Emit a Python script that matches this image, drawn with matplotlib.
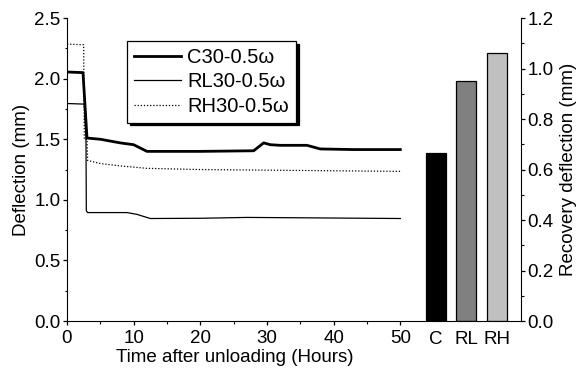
import matplotlib.pyplot as plt
import numpy as np

plt.rcParams['font.family'] = ['Liberation Sans', 'DejaVu Sans']
plt.rcParams['font.size'] = 13.5

# time histories (hours, mm)
t_c = [0, 2.4, 3.0, 5.0, 8.0, 10.0, 12.0, 20.0, 28.0, 29.5, 30.5, 32.0, 36.0, 38.0, 43.0, 50.0]
d_c = [2.055, 2.05, 1.51, 1.50, 1.47, 1.455, 1.40, 1.40, 1.405, 1.47, 1.455, 1.45, 1.45, 1.42, 1.415, 1.415]

t_rl = [0, 2.6, 2.85, 2.9, 3.1, 6.0, 9.0, 10.5, 12.5, 20.0, 27.0, 35.0, 45.0, 50.0]
d_rl = [1.795, 1.79, 1.50, 0.91, 0.895, 0.895, 0.895, 0.88, 0.846, 0.848, 0.855, 0.852, 0.848, 0.846]

t_rh = [0, 2.5, 2.6, 3.0, 3.1, 5.0, 8.0, 12.0, 20.0, 30.0, 40.0, 50.0]
d_rh = [2.285, 2.28, 1.50, 1.50, 1.325, 1.30, 1.28, 1.26, 1.25, 1.245, 1.24, 1.235]

# recovered deflection
groups = ['C', 'RL', 'RH']
recovery = [0.665, 0.950, 1.061]
bar_colors = ['#000000', '#808080', '#c0c0c0']

fig = plt.figure(figsize=(5.8, 3.69), dpi=100)
ax = fig.add_axes([0.1155, 0.130, 0.577, 0.821])
bx = fig.add_axes([0.6945, 0.130, 0.204, 0.821])

ax.plot(t_c, d_c, color='black', lw=2.0, label='C30-0.5ω')
ax.plot(t_rl, d_rl, color='black', lw=0.9, label='RL30-0.5ω')
ax.plot(t_rh, d_rh, color='black', lw=0.9, ls=(0, (1, 1.5)), label='RH30-0.5ω')

ax.set_xlim(0, 50.2)
ax.set_ylim(0, 2.5)
ax.set_xticks([0, 10, 20, 30, 40, 50])
ax.set_xticks(np.arange(5, 50, 10), minor=True)
ax.set_yticks([0, 0.5, 1.0, 1.5, 2.0, 2.5])
ax.set_yticks(np.arange(0.25, 2.5, 0.5), minor=True)
ax.set_yticklabels(['0.0', '0.5', '1.0', '1.5', '2.0', '2.5'])
ax.spines['top'].set_visible(False)
ax.spines['right'].set_visible(False)
ax.tick_params(which='major', direction='out', length=3.2, width=0.9, pad=1.5)
ax.tick_params(which='minor', direction='out', length=1.8, width=0.8)
ax.tick_params(axis='x', which='major', pad=3.5)
ax.set_xlabel('Time after unloading (Hours)')
ax.xaxis.set_label_coords(0.5, -0.092)
ax.set_ylabel('Deflection (mm)')
ax.yaxis.set_label_coords(-0.11, 0.5)

leg = ax.legend(loc='upper left', bbox_to_anchor=(0.179, 0.924), frameon=True,
                fancybox=False, shadow={'color': 'black', 'alpha': 1.0},
                fontsize=14.5, handlelength=2.35, handletextpad=0.3, borderpad=0.35,
                labelspacing=0.26, borderaxespad=0)
leg.get_frame().set_edgecolor('black')
leg.get_frame().set_linewidth(0.9)

x = np.arange(len(groups))
bx.bar(x, recovery, width=0.66, color=bar_colors, edgecolor='black', linewidth=0.9)
bx.set_xlim(-1.08, 2.8)
bx.set_ylim(0, 1.2)
bx.set_xticks(x)
bx.set_xticklabels(groups)
bx.set_yticks([0, 0.2, 0.4, 0.6, 0.8, 1.0, 1.2])
bx.set_yticklabels(['0.0', '0.2', '0.4', '0.6', '0.8', '1.0', '1.2'])
bx.set_yticks(np.arange(0.1, 1.2, 0.2), minor=True)
bx.spines['top'].set_visible(False)
bx.spines['left'].set_visible(False)
bx.yaxis.tick_right()
bx.yaxis.set_label_position('right')
bx.tick_params(axis='x', length=0, pad=7)
bx.tick_params(axis='y', which='major', direction='out', length=3.2, width=0.9, pad=1.5)
bx.tick_params(axis='y', which='minor', direction='out', length=1.8, width=0.8)
bx.set_ylabel('Recovery deflection (mm)')
bx.yaxis.set_label_coords(1.33, 0.5)

fig.savefig('out.png', dpi=100)
